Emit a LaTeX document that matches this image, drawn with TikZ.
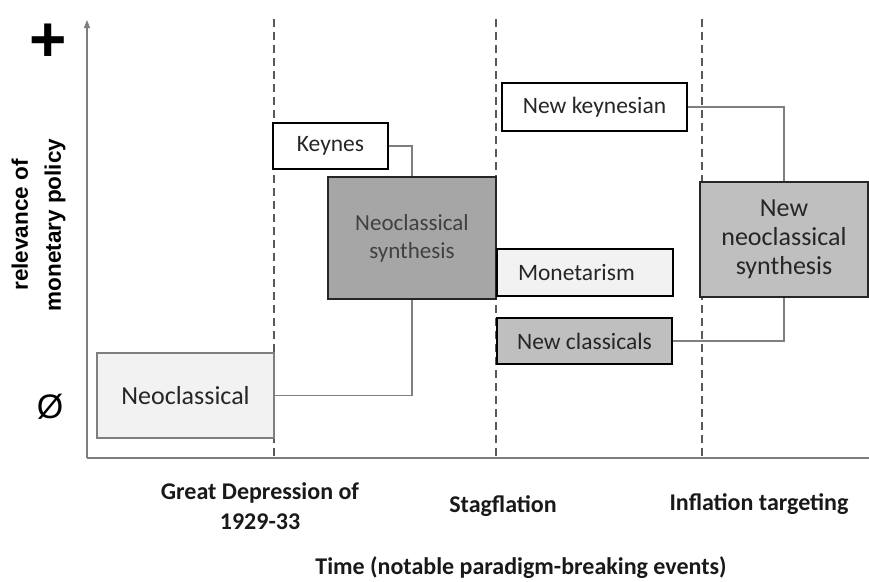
\documentclass[tikz,border=0pt]{standalone}
\usepackage{fontspec}
\setmainfont{Carlito}
\newfontfamily\arialfont{Liberation Sans}
\usetikzlibrary{arrows.meta}
\definecolor{axisgray}{HTML}{7F7F7F}
\definecolor{dashgray}{HTML}{595959}
\definecolor{lightfill}{HTML}{F2F2F2}
\definecolor{midfill}{HTML}{BFBFBF}
\definecolor{darkfill}{HTML}{A6A6A6}
\tikzset{
  box/.style={draw=black, line width=1.6pt, inner sep=0pt, align=center, text=black!85},
  conn/.style={draw=axisgray, line width=1.3pt},
  era/.style={draw=dashgray, line width=1.2pt, dash pattern=on 8pt off 5pt},
  evt/.style={font=\bfseries\fontsize{24}{30}\selectfont, align=center, text=black!90},
}
\begin{document}
\begin{tikzpicture}[x=1pt,y=-1pt]
\useasboundingbox[fill=white] (0,0) rectangle (869,581);
% axes
\coordinate (yb) at (87,458);
\coordinate (yt) at (87,20);
\coordinate (xr) at (869,458);
\draw[draw=axisgray, line width=1.4pt, -{Triangle[length=8pt,width=6pt]}] (yb) -- (yt);
\draw[draw=axisgray, line width=2pt] (yb) -- (xr);
% era lines
\coordinate (d1t) at (274,19); \coordinate (d1b) at (274,457);
\coordinate (d2t) at (496,19); \coordinate (d2b) at (496,457);
\coordinate (d3t) at (702,19); \coordinate (d3b) at (702,457);
\draw[era] (d1t) -- (d1b);
\draw[era] (d2t) -- (d2b);
\draw[era] (d3t) -- (d3b);
% boxes
\node[box, draw=axisgray, line width=1.4pt, fill=lightfill, minimum width=177pt, minimum height=85pt, font=\fontsize{26}{30}\selectfont] (neo) at (185.5,395.5) {Neoclassical};
\node[box, fill=white, minimum width=115pt, minimum height=46pt, font=\fontsize{23.5}{26}\selectfont] (key) at (330.5,146) {Keynes};
\node[box, draw=black!85, fill=darkfill, minimum width=168pt, minimum height=122pt, font=\fontsize{23}{28}\selectfont, text=black!75] (ns) at (412,238) {Neoclassical\\synthesis};
\node[box, fill=lightfill, minimum height=47pt, inner xsep=21pt, text width=134pt, align=left, font=\fontsize{23.5}{26}\selectfont] (mon) at (585,272.5) {Monetarism};
\node[box, fill=midfill, minimum width=175pt, minimum height=46pt, font=\fontsize{23.5}{26}\selectfont] (ncl) at (584.5,341) {New classicals};
\node[box, fill=white, minimum width=185pt, minimum height=48pt, font=\fontsize{23.5}{26}\selectfont] (nk) at (594.5,107) {New keynesian};
\node[box, draw=black!85, fill=midfill, minimum width=168pt, minimum height=115pt, font=\fontsize{26}{29}\selectfont] (nns) at (784,239.5) {New\\neoclassical\\synthesis};
% connectors
\draw[conn] (key.east) -| (ns.north);
\draw[conn] (neo.east) -| (ns.south);
\draw[conn] (nk.east) -| (nns.north);
\draw[conn] (ncl.east) -| (nns.south);
% axis labels
\node[font=\arialfont\bfseries\fontsize{64}{64}\selectfont] (plus) at (48.5,42.5) {+};
\node[font=\arialfont\fontsize{34}{34}\selectfont] (zero) at (50,407) {Ø};
\node[rotate=90, align=center, font=\arialfont\bfseries\fontsize{22.5}{33}\selectfont] (ylab) at (38.5,225) {relevance of\\monetary policy};
\node[evt] (gd) at (260,506) {Great Depression of\\1929-33};
\node[evt] (stag) at (503,506) {Stagflation};
\node[evt] (inf) at (759,504) {Inflation targeting};
\node[evt] (time) at (521,568) {Time (notable paradigm-breaking events)};
\end{tikzpicture}
\end{document}
